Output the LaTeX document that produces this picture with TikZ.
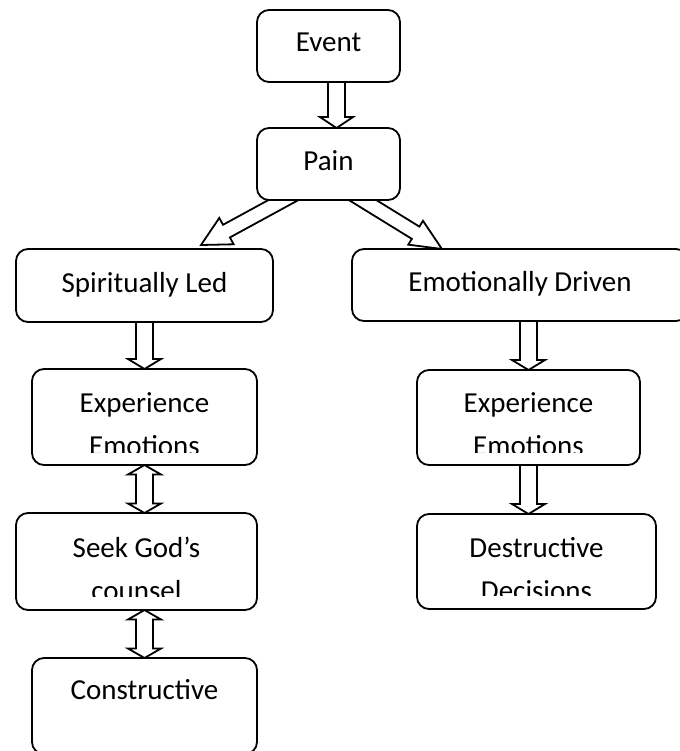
\documentclass[tikz,border=0pt]{standalone}
\usepackage{fontspec}
\setmainfont{Carlito}
\usetikzlibrary{calc}
\pgfdeclarelayer{back}
\pgfdeclarelayer{bg}
\pgfsetlayers{back,bg,main}
\tikzset{
  box/.style={draw, line width=0.9pt, rounded corners=6pt, inner sep=0pt, outer sep=0pt, anchor=north west, fill=white},
  lbl/.style={anchor=base, inner sep=0pt, outer sep=0pt, font=\fontsize{14.5}{21.5}\selectfont},
  barrow/.style={draw, line width=0.9pt, fill=white, line join=miter},
}
% single block arrow: from, to, shaft half width, head half width, head length
\newcommand{\sarrow}[5]{%
  \coordinate (hb) at ($(#2)!#5!(#1)$);
  \draw[barrow] ($(#1)!#3!90:(#2)$) -- ($(hb)!#3!-90:(#1)$) -- ($(hb)!#4!-90:(#1)$) -- (#2)
    -- ($(hb)!#4!90:(#1)$) -- ($(hb)!#3!90:(#1)$) -- ($(#1)!#3!-90:(#2)$) -- cycle;}
% double block arrow
\newcommand{\darrow}[5]{%
  \coordinate (hba) at ($(#1)!#5!(#2)$);
  \coordinate (hbb) at ($(#2)!#5!(#1)$);
  \draw[barrow] (#1) -- ($(hba)!#4!90:(#2)$) -- ($(hba)!#3!90:(#2)$) -- ($(hbb)!#3!-90:(#1)$)
    -- ($(hbb)!#4!-90:(#1)$) -- (#2) -- ($(hbb)!#4!90:(#1)$) -- ($(hbb)!#3!90:(#1)$)
    -- ($(hba)!#3!-90:(#2)$) -- ($(hba)!#4!-90:(#2)$) -- cycle;}
\begin{document}
\begin{tikzpicture}[x=0.5pt, y=-0.5pt]
\useasboundingbox (0,0) rectangle (680,751);
\begin{pgfonlayer}{back}
\fill[white] (0,0) rectangle (680,751);
\end{pgfonlayer}
\clip (0,0) rectangle (680,751);

% boxes
\node[box, minimum width=71.5pt, minimum height=36pt] (event) at (257,10) {};
\node[box, minimum width=71.5pt, minimum height=36pt] (pain) at (257,128) {};
\node[box, minimum width=128.5pt, minimum height=36.5pt] (spirit) at (16,249) {};
\node[box, minimum width=168pt, minimum height=36pt] (emo) at (352,249) {};
\node[box, minimum width=112.5pt, minimum height=48pt] (expL) at (32,369) {};
\node[box, minimum width=120.5pt, minimum height=48.5pt] (seek) at (16,513) {};
\node[box, minimum width=112.5pt, minimum height=48pt] (cons) at (32,658) {};
\node[box, minimum width=111.5pt, minimum height=47.5pt] (expR) at (417,370) {};
\node[box, minimum width=119.5pt, minimum height=47.5pt] (dest) at (417,514) {};

% labels
\node[lbl] (tEvent) at ($(event.north)+(0,41)$) {Event};
\node[lbl] (tPain) at ($(pain.north)+(0,42)$) {Pain};
\node[lbl] (tSpirit) at ($(spirit.north)+(0,43)$) {Spiritually Led};
\node[lbl] (tEmo) at ($(emo.north)+(0,42)$) {Emotionally Driven};
\node[lbl] (tCons) at ($(cons.north)+(0,41)$) {Constructive};
\begin{scope}
  \clip ($(expL.south west)+(0,-13)$) rectangle (expL.north east);
  \node[lbl] (tExpL1) at ($(expL.north)+(0,43)$) {Experience};
  \node[lbl] (tExpL2) at ($(expL.north)+(0,86)$) {Emotions};
\end{scope}
\begin{scope}
  \clip ($(seek.south west)+(0,-14)$) rectangle (seek.north east);
  \node[lbl] (tSeek1) at ($(seek.north)+(0,44)$) {Seek God’s};
  \node[lbl] (tSeek2) at ($(seek.north)+(0,87)$) {counsel};
\end{scope}
\begin{scope}
  \clip ($(expR.south west)+(0,-13)$) rectangle (expR.north east);
  \node[lbl] (tExpR1) at ($(expR.north)+(0,42)$) {Experience};
  \node[lbl] (tExpR2) at ($(expR.north)+(0,85)$) {Emotions};
\end{scope}
\begin{scope}
  \clip ($(dest.south west)+(0,-14)$) rectangle (dest.north east);
  \node[lbl] (tDest1) at ($(dest.north)+(0,43)$) {Destructive};
  \node[lbl] (tDest2) at ($(dest.north)+(0,86)$) {Decisions};
\end{scope}

% arrow end points
\coordinate (a1s) at ($(event.south)+(8,0)$);
\coordinate (a1e) at ($(pain.north)+(8,0)$);
\coordinate (a2m) at ($(pain.south)+(-45,0)$);
\coordinate (a2e) at ($(spirit.north)+(56.5,-4)$);
\coordinate (a2s) at ($(a2m)!-10pt!(a2e)$);
\coordinate (a3m) at ($(pain.south)+(34,0)$);
\coordinate (a3e) at ($(emo.north)+(-78,0)$);
\coordinate (a3s) at ($(a3m)!-10pt!(a3e)$);
\coordinate (a4s) at (spirit.south);
\coordinate (a4e) at (expL.north);
\coordinate (a5s) at ($(seek.north)+(8,0)$);
\coordinate (a6s) at ($(seek.south)+(8,0)$);
\coordinate (a7s) at ($(emo.south)+(8.5,0)$);
\coordinate (a7e) at (expR.north);
\coordinate (a8s) at (expR.south);
\coordinate (a8e) at ($(dest.north)+(-8,0)$);

% arrows
\sarrow{a1s}{a1e}{4.25pt}{8.25pt}{5.5pt}
\begin{pgfonlayer}{bg}
\sarrow{a2s}{a2e}{3.6pt}{7.5pt}{14.5pt}
\sarrow{a3s}{a3e}{3.6pt}{7pt}{15.5pt}
\end{pgfonlayer}
\sarrow{a4s}{a4e}{4.25pt}{8.25pt}{5pt}
\darrow{expL.south}{a5s}{4.25pt}{8.25pt}{4.75pt}
\darrow{a6s}{cons.north}{4.25pt}{8.25pt}{4.75pt}
\sarrow{a7s}{a7e}{4.25pt}{8.25pt}{5pt}
\sarrow{a8s}{a8e}{4.25pt}{8.25pt}{5pt}
\end{tikzpicture}
\end{document}
